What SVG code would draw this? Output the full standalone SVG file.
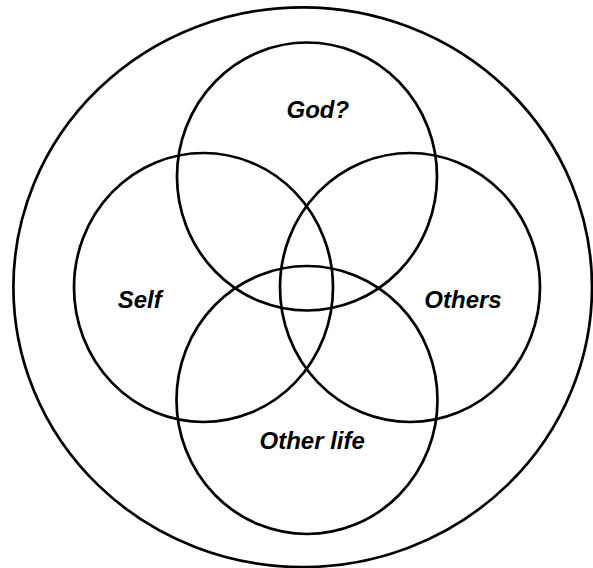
<svg xmlns="http://www.w3.org/2000/svg" width="593" height="568" viewBox="0 0 593 568">
<style>
.c{fill:none;stroke:#000;stroke-width:2.7}
.t{font-family:"Liberation Sans",Arial,sans-serif;font-size:24px;font-weight:bold;font-style:italic;fill:#000;text-anchor:middle}
</style>
<rect width="593" height="568" fill="#fff"/>
<g id="universe"><ellipse class="c" cx="302.7" cy="287.2" rx="289.3" ry="279.9"/></g>
<g id="god"><ellipse class="c" cx="307" cy="176.5" rx="130" ry="134"/><text class="t" x="317.8" y="118">God?</text></g>
<g id="self"><ellipse class="c" cx="203.5" cy="287.5" rx="129.5" ry="134.5"/><text class="t" x="139.7" y="308">Self</text></g>
<g id="others"><ellipse class="c" cx="410" cy="287.5" rx="130" ry="134.5"/><text class="t" x="463" y="308">Others</text></g>
<g id="otherlife"><ellipse class="c" cx="307" cy="400" rx="130.5" ry="134"/><text class="t" x="312.2" y="449">Other life</text></g>
<g id="connectors"></g>
</svg>
